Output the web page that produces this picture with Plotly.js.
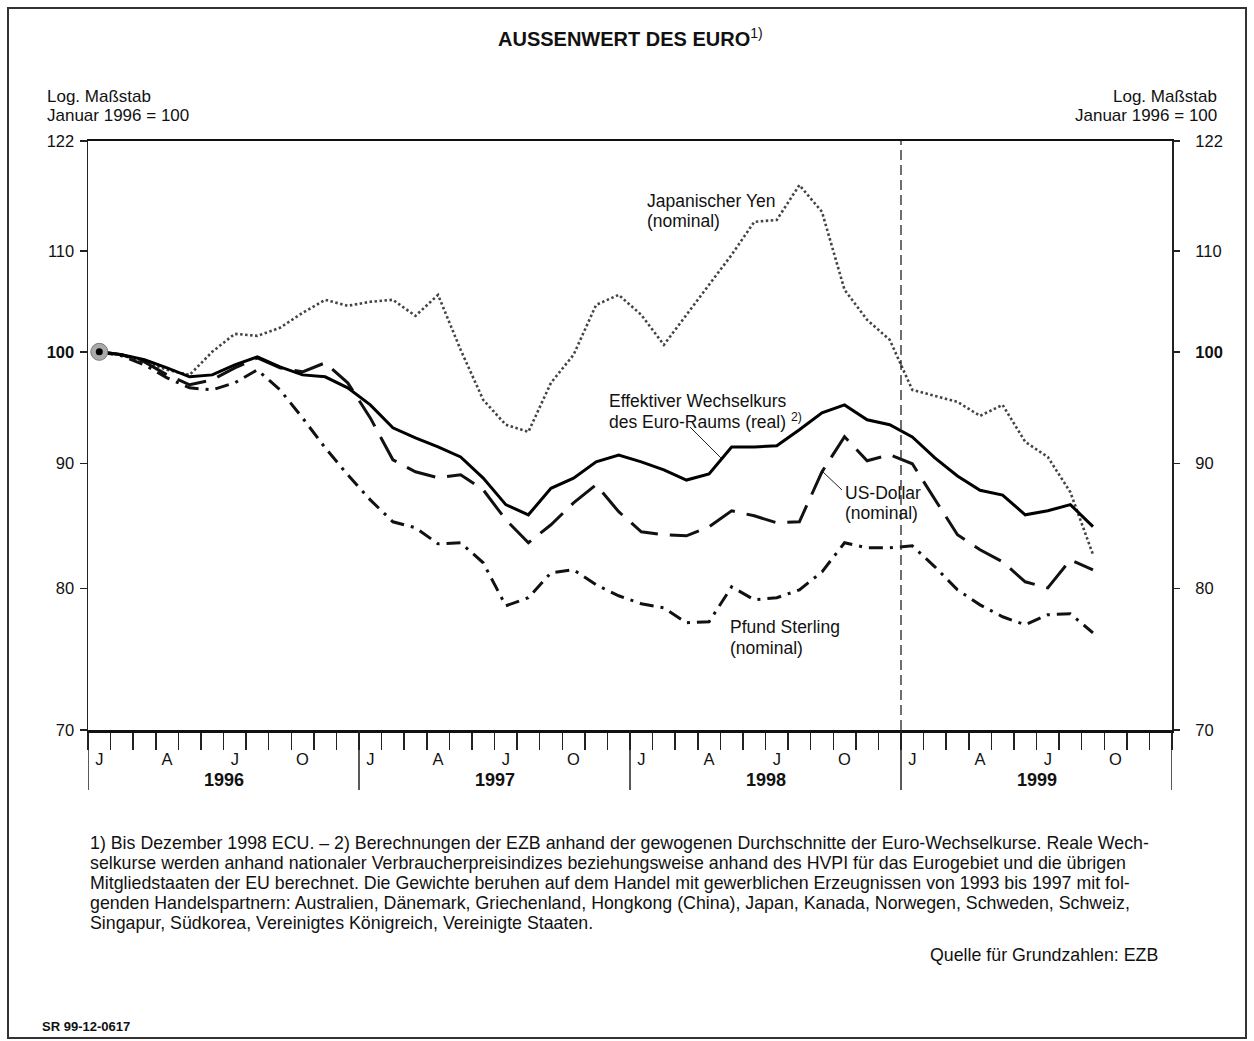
<!DOCTYPE html>
<html><head><meta charset="utf-8">
<script src="https://cdn.plot.ly/plotly-3.0.1.min.js"></script>
<style>html,body{margin:0;padding:0;background:#fff;} #chart{width:1254px;height:1041px;}</style>
</head><body><div id="chart"></div>
<script>
// Monthly observations, January 1996 to September 1999 (index: January 1996 = 100, log scale)
const months = ['Jan 96','Feb 96','Mär 96','Apr 96','Mai 96','Jun 96','Jul 96','Aug 96','Sep 96','Okt 96','Nov 96','Dez 96',
  'Jan 97','Feb 97','Mär 97','Apr 97','Mai 97','Jun 97','Jul 97','Aug 97','Sep 97','Okt 97','Nov 97','Dez 97',
  'Jan 98','Feb 98','Mär 98','Apr 98','Mai 98','Jun 98','Jul 98','Aug 98','Sep 98','Okt 98','Nov 98','Dez 98',
  'Jan 99','Feb 99','Mär 99','Apr 99','Mai 99','Jun 99','Jul 99','Aug 99','Sep 99'];
const yen = [100, 99.72, 99.06, 98.32, 97.85, 100.0, 101.71, 101.52, 102.29, 103.75, 105.03, 104.44,
  104.83, 105.03, 103.45, 105.52, 100.19, 95.57, 93.35, 92.73, 97.12, 99.72, 104.53, 105.52,
  103.55, 100.66, 103.55, 106.52, 109.58, 113.04, 113.25, 117.03, 114.12, 106.02, 103.06, 101.14,
  96.48, 95.93, 95.39, 94.14, 95.12, 91.86, 90.56, 87.6, 82.6];
const effektiv = [100, 99.72, 99.25, 98.50, 97.67, 97.85, 98.78, 99.53, 98.59, 97.85, 97.67, 96.66,
  95.12, 93.08, 92.20, 91.42, 90.56, 88.77, 86.58, 85.75, 87.92, 88.77, 90.14, 90.73,
  90.14, 89.46, 88.61, 89.12, 91.42, 91.42, 91.52, 92.91, 94.41, 95.12, 93.79, 93.35,
  92.29, 90.48, 88.95, 87.76, 87.36, 85.75, 86.08, 86.58, 84.80];
const usd = [100, 99.72, 99.06, 97.85, 96.94, 97.39, 98.50, 99.43, 98.50, 98.13, 98.97, 97.12,
  93.96, 90.32, 89.30, 88.80, 89.05, 87.80, 85.35, 83.52, 84.95, 86.72, 88.22, 86.00,
  84.39, 84.15, 84.07, 84.79, 86.08, 85.67, 85.11, 85.19, 89.30, 92.30, 90.24, 90.75,
  89.98, 86.97, 84.15, 82.97, 82.03, 80.50, 80.04, 82.19, 81.42];
const gbp = [100, 99.62, 98.78, 97.58, 96.66, 96.48, 97.12, 98.32, 96.48, 93.96, 91.35, 89.05,
  86.97, 85.19, 84.71, 83.44, 83.52, 81.96, 78.70, 79.30, 81.19, 81.42, 80.27, 79.45,
  78.85, 78.55, 77.45, 77.52, 80.12, 79.15, 79.30, 79.89, 81.26, 83.52, 83.12, 83.12,
  83.28, 81.65, 79.89, 78.77, 77.89, 77.30, 78.04, 78.11, 76.72];
const years = ['1996','1997','1998','1999'];
const quarterLabels = ['J','A','J','O'];
const yTicks = [70, 80, 90, 100, 110, 122];
const yTickText = ['70','80','90','<b>100</b>','110','122'];
const gridValues = [80, 90, 110];

// ---- layout helpers ----
const L = 88, T = 141, W = 1084, H = 589;
const px = x => (x - L) / W;
const py = y => (T + H - y) / H;
const FONT = 'Liberation Sans, Arial, sans-serif';
const xIdx = months.map((m, i) => i);
const nMonths = years.length * 12;

const tickPos = [], tickTxt = [];
years.forEach((y, k) => quarterLabels.forEach((q, j) => { tickPos.push(k * 12 + j * 3); tickTxt.push(q); }));
const boundaries = [];
for (let i = 0; i <= nMonths; i++) boundaries.push(i - 0.5);

const traces = [
  {x: xIdx, y: yen, text: months, mode: 'lines', line: {color: '#444', width: 2.6, dash: '2.5px,2.5px'}},
  {x: xIdx, y: gbp, text: months, mode: 'lines', line: {color: '#111', width: 3, dash: '14px,7px,3px,7px'}},
  {x: xIdx, y: usd, text: months, mode: 'lines', line: {color: '#111', width: 3, dash: '30px,12px'}},
  {x: xIdx, y: effektiv, text: months, mode: 'lines', line: {color: '#000', width: 3}},
  {x: [xIdx[0]], y: [effektiv[0]], mode: 'markers', marker: {symbol: 'circle', size: 17, color: '#aaa', line: {color: '#777', width: 1}}},
  {x: [xIdx[0]], y: [effektiv[0]], mode: 'markers', marker: {symbol: 'circle', size: 7, color: '#000'}},
  {x: [xIdx[0]], y: [effektiv[0]], mode: 'markers', marker: {symbol: 'circle', size: 0.1, color: 'rgba(0,0,0,0)'}, yaxis: 'y2', hoverinfo: 'skip'}
];

const shapes = [];
gridValues.forEach(v => shapes.push({type: 'line', xref: 'paper', x0: 0, x1: 1, yref: 'y', y0: Math.log10(v), y1: Math.log10(v), line: {color: '#222', width: 1.5}, layer: 'below'}));
shapes.push({type: 'line', xref: 'paper', x0: 0, x1: 1, yref: 'y', y0: Math.log10(100), y1: Math.log10(100), line: {color: '#000', width: 3}, layer: 'below'});
// dashed line at start of 1999
shapes.push({type: 'line', xref: 'x', x0: 35.5, x1: 35.5, yref: 'paper', y0: 0, y1: 1, line: {color: '#222', width: 1.3, dash: '10px,5px'}});
// year separators below the axis
for (let k = 0; k <= years.length; k++) {
  shapes.push({type: 'line', xref: 'x', x0: k * 12 - 0.5, x1: k * 12 - 0.5, yref: 'paper', y0: py(790), y1: 0, line: {color: '#222', width: 1.5}});
}
// leader lines
shapes.push({type: 'line', xref: 'paper', yref: 'paper', x0: px(690), y0: py(427), x1: px(721), y1: py(458), line: {color: '#222', width: 1}});
shapes.push({type: 'line', xref: 'paper', yref: 'paper', x0: px(823), y0: py(472), x1: px(842), y1: py(490), line: {color: '#222', width: 1}});
// outer frame
shapes.push({type: 'rect', xref: 'paper', yref: 'paper', x0: px(8), x1: px(1246), y0: py(1038), y1: py(8), line: {color: '#333', width: 2}});

const ann = [];
const A = (text, x, y, o) => ann.push(Object.assign({text, xref: 'paper', yref: 'paper', x: px(x), y: py(y), showarrow: false, xanchor: 'left', yanchor: 'middle', font: {family: FONT, size: 17.5, color: '#111'}}, o || {}));
A('<b>AUSSENWERT DES EURO</b><sup>1)</sup>', 630, 37, {xanchor: 'center', font: {family: FONT, size: 20, color: '#111'}});
const hdr = {family: FONT, size: 17, color: '#111'};
A('Log. Maßstab', 45, 96, {font: hdr});
A('Januar 1996 = 100', 45, 116, {font: hdr});
A('Log. Maßstab', 1219, 96, {xanchor: 'right', font: hdr});
A('Januar 1996 = 100', 1219, 116, {xanchor: 'right', font: hdr});
A('Japanischer Yen', 645, 201);
A('(nominal)', 645, 221);
A('Effektiver Wechselkurs', 607, 401);
A('des Euro-Raums (real) <sup>2)</sup>', 607, 421);
A('US-Dollar', 843, 493);
A('(nominal)', 843, 513);
A('Pfund Sterling', 728, 627);
A('(nominal)', 728, 648);
years.forEach((y, k) => ann.push({text: '<b>' + y + '</b>', xref: 'x', x: k * 12 + 5.5, yref: 'paper', y: py(780), showarrow: false, xanchor: 'center', yanchor: 'middle', font: {family: FONT, size: 18, color: '#111'}}));
const foot = [
  '1) Bis Dezember 1998 ECU. – 2) Berechnungen der EZB anhand der gewogenen Durchschnitte der Euro-Wechselkurse. Reale Wech-',
  'selkurse werden anhand nationaler Verbraucherpreisindizes beziehungsweise anhand des HVPI für das Eurogebiet und die übrigen',
  'Mitgliedstaaten der EU berechnet. Die Gewichte beruhen auf dem Handel mit gewerblichen Erzeugnissen von 1993 bis 1997 mit fol-',
  'genden Handelspartnern: Australien, Dänemark, Griechenland, Hongkong (China), Japan, Kanada, Norwegen, Schweden, Schweiz,',
  'Singapur, Südkorea, Vereinigtes Königreich, Vereinigte Staaten.'
];
foot.forEach((t, i) => A(t, 88, 843 + i * 20, {font: {family: FONT, size: 17.8, color: '#111'}}));
A('Quelle für Grundzahlen: EZB', 1160, 955, {xanchor: 'right', font: {family: FONT, size: 17.8, color: '#111'}});
A('<b>SR 99-12-0617</b>', 40, 1026, {font: {family: FONT, size: 13, color: '#111'}});

const yCommon = {type: 'log', range: [Math.log10(70), Math.log10(122)], tickmode: 'array', tickvals: yTicks, ticktext: yTickText,
  ticks: 'outside', ticklen: 7, tickwidth: 1.5, tickcolor: '#222', showgrid: false, zeroline: false, fixedrange: true,
  tickfont: {family: FONT, size: 16.5, color: '#111'}};

const layout = {
  width: 1254, height: 1041,
  margin: {l: L, r: 1254 - L - W, t: T, b: 1041 - T - H},
  paper_bgcolor: '#fff', plot_bgcolor: '#fff',
  showlegend: false,
  xaxis: {range: [-0.5, nMonths - 0.5], tickmode: 'array', tickvals: tickPos, ticktext: tickTxt, ticks: '',
    ticklabelstandoff: 13, tickfont: {family: FONT, size: 16.5, color: '#111'},
    minor: {tickmode: 'array', tickvals: boundaries, ticks: 'outside', ticklen: 17, tickwidth: 1.5, tickcolor: '#222', showgrid: false},
    showgrid: false, zeroline: false, showline: true, linecolor: '#111', linewidth: 2.5, mirror: true},
  yaxis: Object.assign({}, yCommon, {showline: true, linecolor: '#222', linewidth: 1.5, mirror: true, ticklabelstandoff: 2}),
  yaxis2: Object.assign({}, yCommon, {overlaying: 'y', side: 'right', showline: false, ticklabelstandoff: 12}),
  shapes: shapes,
  annotations: ann
};
Plotly.newPlot('chart', traces, layout, {staticPlot: true});
</script></body></html>
